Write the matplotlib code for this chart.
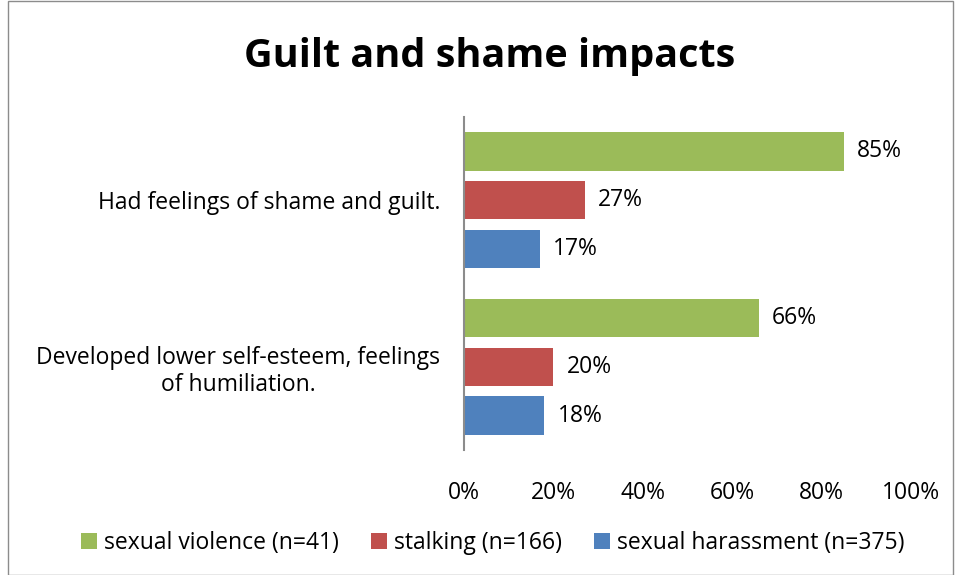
import matplotlib.pyplot as plt
from matplotlib.patches import Rectangle

categories = ['Had feelings of shame and guilt.',
              'Developed lower self-esteem, feelings\nof humiliation.']
series = ['sexual violence (n=41)', 'stalking (n=166)', 'sexual harassment (n=375)']
violence = [85, 66]
stalking = [27, 20]
harassment = [17, 18]
ticks = [0, 20, 40, 60, 80, 100]

colors = ['#9BBB59', '#C0504D', '#4F81BD']
plt.rcParams['font.family'] = ['Open Sans', 'DejaVu Sans']

fig = plt.figure(figsize=(9.6, 5.75), dpi=100)
fig.patches.append(Rectangle((0.008, 0.0), 0.985, 0.998, transform=fig.transFigure,
                             fill=False, edgecolor='#8C8C8C', lw=1))
ax = fig.add_axes([0.4833, 0.2174, 0.4656, 0.5791])

offsets = [-0.294, 0.0, 0.294]
h = 0.231
for vals, off, col, name in zip([violence, stalking, harassment], offsets, colors, series):
    ys = [i + off for i in range(len(categories))]
    bars = ax.barh(ys, vals, height=h, color=col, label=name)
    for b, v in zip(bars, vals):
        ax.annotate(f'{v}%', (b.get_width(), b.get_y() + b.get_height() / 2),
                    xytext=(9.5, 0), textcoords='offset points', va='center', ha='left',
                    fontsize=16.5)

ax.set_ylim(1.5, -0.5)
ax.set_xlim(0, 100)
ax.set_yticks(range(len(categories)))
ax.set_yticklabels(categories, fontsize=16.5, multialignment='center')
ax.set_xticks(ticks)
ax.set_xticklabels([f'{t}%' for t in ticks], fontsize=16.5)
ax.tick_params(axis='y', length=0, pad=17)
ax.tick_params(axis='x', length=0, pad=22)
for s in ['top', 'right', 'bottom']:
    ax.spines[s].set_visible(False)
ax.spines['left'].set_color('#8C8C8C')
ax.spines['left'].set_linewidth(1.5)

fig.text(0.51, 0.902, 'Guilt and shame impacts', ha='center', va='center',
         fontsize=28.5, fontweight='bold')

fig.legend(loc='center', bbox_to_anchor=(0.513, 0.056), ncol=3, frameon=False,
           fontsize=16.5, handlelength=0.7, handleheight=0.7, handletextpad=0.3,
           columnspacing=1.4)

fig.savefig('out.png', dpi=100)
